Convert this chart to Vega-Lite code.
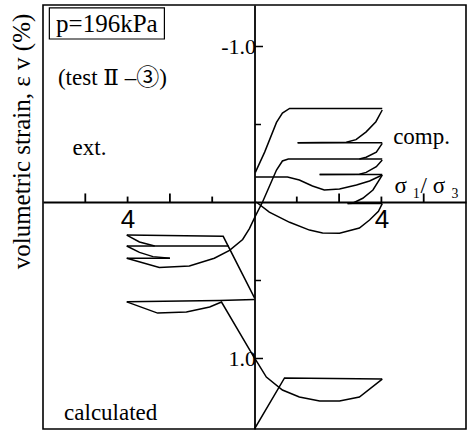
{
  "$schema": "https://vega.github.io/schema/vega-lite/v6.json",
  "width": 423,
  "height": 424,
  "autosize": "none",
  "padding": {"left": 43, "top": 5, "right": 3, "bottom": 3},
  "background": "white",
  "config": {
    "view": {"stroke": "black", "strokeWidth": 1.6},
    "font": "Liberation Serif"
  },
  "datasets": {
    "curves": [
      {"seg": "a", "i": 0, "x": 0.02, "y": -0.19},
      {"seg": "a", "i": 1, "x": 0.24, "y": -0.32},
      {"seg": "a", "i": 2, "x": 0.52, "y": -0.51},
      {"seg": "a", "i": 3, "x": 0.66, "y": -0.57},
      {"seg": "a", "i": 4, "x": 0.83, "y": -0.6},
      {"seg": "a", "i": 5, "x": 3.02, "y": -0.6},

      {"seg": "b", "i": 0, "x": 3.02, "y": -0.59},
      {"seg": "b", "i": 1, "x": 2.87, "y": -0.515},
      {"seg": "b", "i": 2, "x": 2.64, "y": -0.45},
      {"seg": "b", "i": 3, "x": 2.4, "y": -0.4},
      {"seg": "b", "i": 4, "x": 2.17, "y": -0.383},
      {"seg": "b", "i": 5, "x": 1.02, "y": -0.38},

      {"seg": "c", "i": 0, "x": 1.02, "y": -0.38},
      {"seg": "c", "i": 1, "x": 3.02, "y": -0.38},

      {"seg": "d", "i": 0, "x": 3.02, "y": -0.376},
      {"seg": "d", "i": 1, "x": 2.88, "y": -0.32},
      {"seg": "d", "i": 2, "x": 2.64, "y": -0.287},
      {"seg": "d", "i": 3, "x": 2.48, "y": -0.276},

      {"seg": "e", "i": 0, "x": -3.02, "y": 0.36},
      {"seg": "e", "i": 1, "x": -2.25, "y": 0.42},
      {"seg": "e", "i": 2, "x": -1.54, "y": 0.41},
      {"seg": "e", "i": 3, "x": -0.95, "y": 0.36},
      {"seg": "e", "i": 4, "x": -0.59, "y": 0.31},
      {"seg": "e", "i": 5, "x": -0.28, "y": 0.24},
      {"seg": "e", "i": 6, "x": -0.12, "y": 0.17},
      {"seg": "e", "i": 7, "x": 0.02, "y": 0.09},
      {"seg": "e", "i": 8, "x": 0.19, "y": 0.0},
      {"seg": "e", "i": 9, "x": 0.35, "y": -0.1},
      {"seg": "e", "i": 10, "x": 0.52, "y": -0.205},
      {"seg": "e", "i": 11, "x": 0.66, "y": -0.263},
      {"seg": "e", "i": 12, "x": 0.8, "y": -0.276},
      {"seg": "e", "i": 13, "x": 3.02, "y": -0.276},

      {"seg": "f", "i": 0, "x": 3.02, "y": -0.27},
      {"seg": "f", "i": 1, "x": 2.88, "y": -0.226},
      {"seg": "f", "i": 2, "x": 2.64, "y": -0.19},
      {"seg": "f", "i": 3, "x": 2.48, "y": -0.178},
      {"seg": "f", "i": 4, "x": 1.54, "y": -0.176},

      {"seg": "g", "i": 0, "x": 1.54, "y": -0.176},
      {"seg": "g", "i": 1, "x": 3.02, "y": -0.176},

      {"seg": "h", "i": 0, "x": 0.02, "y": -0.16},
      {"seg": "h", "i": 1, "x": 0.78, "y": -0.16},
      {"seg": "h", "i": 2, "x": 1.06, "y": -0.141},
      {"seg": "h", "i": 3, "x": 1.37, "y": -0.103},
      {"seg": "h", "i": 4, "x": 1.65, "y": -0.077},
      {"seg": "h", "i": 5, "x": 2.01, "y": -0.083},
      {"seg": "h", "i": 6, "x": 2.41, "y": -0.109},
      {"seg": "h", "i": 7, "x": 2.72, "y": -0.135},
      {"seg": "h", "i": 8, "x": 3.02, "y": -0.173},

      {"seg": "i", "i": 0, "x": 3.02, "y": -0.173},
      {"seg": "i", "i": 1, "x": 2.8, "y": -0.077},
      {"seg": "i", "i": 2, "x": 2.56, "y": -0.024},
      {"seg": "i", "i": 3, "x": 2.32, "y": 0.008},
      {"seg": "i", "i": 4, "x": 2.2, "y": 0.01},

      {"seg": "j", "i": 0, "x": 2.2, "y": 0.01},
      {"seg": "j", "i": 1, "x": 3.02, "y": 0.01},

      {"seg": "k", "i": 0, "x": 0.04, "y": 0.0},
      {"seg": "k", "i": 1, "x": 0.35, "y": 0.065},
      {"seg": "k", "i": 2, "x": 0.83, "y": 0.13},
      {"seg": "k", "i": 3, "x": 1.3, "y": 0.18},
      {"seg": "k", "i": 4, "x": 1.61, "y": 0.198},
      {"seg": "k", "i": 5, "x": 2.01, "y": 0.2},
      {"seg": "k", "i": 6, "x": 2.48, "y": 0.167},
      {"seg": "k", "i": 7, "x": 2.72, "y": 0.115},
      {"seg": "k", "i": 8, "x": 2.93, "y": 0.06},
      {"seg": "k", "i": 9, "x": 3.02, "y": 0.01},

      {"seg": "l", "i": 0, "x": 0.0, "y": 0.615},
      {"seg": "l", "i": 1, "x": -0.74, "y": 0.22},
      {"seg": "l", "i": 2, "x": -3.02, "y": 0.212},

      {"seg": "m", "i": 0, "x": -3.02, "y": 0.212},
      {"seg": "m", "i": 1, "x": -2.72, "y": 0.256},
      {"seg": "m", "i": 2, "x": -2.36, "y": 0.282},
      {"seg": "m", "i": 3, "x": -0.61, "y": 0.282},

      {"seg": "n", "i": 0, "x": -3.02, "y": 0.282},
      {"seg": "n", "i": 1, "x": -2.36, "y": 0.282},

      {"seg": "o", "i": 0, "x": -3.02, "y": 0.282},
      {"seg": "o", "i": 1, "x": -2.72, "y": 0.323},
      {"seg": "o", "i": 2, "x": -2.4, "y": 0.35},
      {"seg": "o", "i": 3, "x": -2.0, "y": 0.36},

      {"seg": "p", "i": 0, "x": -2.0, "y": 0.36},
      {"seg": "p", "i": 1, "x": -3.02, "y": 0.36},

      {"seg": "q", "i": 0, "x": 0.0, "y": 0.625},
      {"seg": "q", "i": 1, "x": -0.83, "y": 0.632},
      {"seg": "q", "i": 2, "x": -3.02, "y": 0.64},

      {"seg": "r", "i": 0, "x": -3.02, "y": 0.64},
      {"seg": "r", "i": 1, "x": -2.29, "y": 0.712},
      {"seg": "r", "i": 2, "x": -1.61, "y": 0.705},
      {"seg": "r", "i": 3, "x": -1.06, "y": 0.673},
      {"seg": "r", "i": 4, "x": -0.78, "y": 0.641},
      {"seg": "r", "i": 5, "x": 0.0, "y": 1.0},
      {"seg": "r", "i": 6, "x": 0.07, "y": 1.03},
      {"seg": "r", "i": 7, "x": 0.28, "y": 1.122},
      {"seg": "r", "i": 8, "x": 0.66, "y": 1.205},
      {"seg": "r", "i": 9, "x": 1.06, "y": 1.25},
      {"seg": "r", "i": 10, "x": 1.54, "y": 1.276},
      {"seg": "r", "i": 11, "x": 2.01, "y": 1.276},
      {"seg": "r", "i": 12, "x": 2.48, "y": 1.25},
      {"seg": "r", "i": 13, "x": 3.02, "y": 1.135},

      {"seg": "s", "i": 0, "x": 3.02, "y": 1.135},
      {"seg": "s", "i": 1, "x": 0.71, "y": 1.128},
      {"seg": "s", "i": 2, "x": 0.0, "y": 1.455}
    ],
    "xticks": [
      {"x": -4}, {"x": -3}, {"x": -2}, {"x": -1},
      {"x": 1}, {"x": 2}, {"x": 3}, {"x": 4}
    ],
    "notes": [
      {"label": "(test Ⅱ –③)", "x": -3.36, "y": -0.795},
      {"label": "ext.", "x": -3.9, "y": -0.346},
      {"label": "comp.", "x": 3.95, "y": -0.417},
      {"label": "calculated", "x": -3.4, "y": 1.353}
    ],
    "axisname": [
      {"label": "σ ₁/ σ ₃", "x": 4.07, "y": -0.1}
    ],
    "box": [
      {"label": "p=196kPa", "x": -4.85, "x2": -2.13, "y": -1.244, "y2": -1.045, "cx": -3.49, "cy": -1.144}
    ]
  },
  "layer": [
    {
      "data": {"name": "curves"},
      "mark": {"type": "line", "color": "black", "strokeWidth": 1.5, "clip": true},
      "encoding": {
        "x": {
          "field": "x",
          "type": "quantitative",
          "scale": {"domain": [-5, 5], "nice": false, "zero": false},
          "axis": {
            "orient": "bottom",
            "offset": -227,
            "values": [-4, -3, -2, -1, 1, 2, 3, 4],
            "title": null,
            "grid": false,
            "domainColor": "black",
            "domainWidth": 1.8,
            "ticks": false,
            "labelExpr": "abs(datum.value) == 3 ? '4' : ''",
            "labelFont": "Liberation Sans Narrow, Liberation Sans",
            "labelFontSize": 26,
            "labelColor": "black",
            "labelBaseline": "top",
            "labelPadding": 4
          }
        },
        "y": {
          "field": "y",
          "type": "quantitative",
          "scale": {"domain": [-1.263, 1.455], "reverse": true, "nice": false, "zero": false},
          "axis": {
            "orient": "left",
            "offset": -211.5,
            "values": [-1, -0.5, 0.5, 1],
            "grid": false,
            "domainColor": "black",
            "domainWidth": 1.8,
            "tickColor": "black",
            "tickWidth": 1.5,
            "tickSize": {"condition": {"test": "abs(datum.value) == 1", "value": -8}, "value": -6},
            "labelExpr": "datum.value == -1 ? '-1.0' : datum.value == 1 ? '1.0' : ''",
            "labelFont": "Liberation Serif",
            "labelFontSize": 22,
            "labelColor": "black",
            "labelPadding": 7,
            "title": "volumetric strain, ε v (%)",
            "titleFont": "Liberation Serif",
            "titleFontSize": 25,
            "titleFontWeight": "normal",
            "titleColor": "black",
            "titleAngle": 270,
            "titleAlign": "center",
            "titleBaseline": "middle",
            "titleX": -233,
            "titleY": 136
          }
        },
        "detail": {"field": "seg"},
        "order": {"field": "i"}
      }
    },
    {
      "data": {"name": "xticks"},
      "transform": [{"filter": "datum.x % 2 == 0"}],
      "mark": {"type": "rule", "color": "black", "strokeWidth": 1.8},
      "encoding": {
        "x": {"field": "x", "type": "quantitative"},
        "y": {"datum": 0, "type": "quantitative"},
        "y2": {"datum": -0.055}
      }
    },
    {
      "data": {"name": "xticks"},
      "transform": [{"filter": "datum.x % 2 != 0"}],
      "mark": {"type": "rule", "color": "black", "strokeWidth": 1.8},
      "encoding": {
        "x": {"field": "x", "type": "quantitative"},
        "y": {"datum": 0, "type": "quantitative"},
        "y2": {"datum": -0.035}
      }
    },
    {
      "data": {"name": "box"},
      "mark": {"type": "rect", "fill": "black", "xOffset": 1.5, "yOffset": 1.5},
      "encoding": {
        "x": {"field": "x", "type": "quantitative"},
        "x2": {"field": "x2"},
        "y": {"field": "y", "type": "quantitative"},
        "y2": {"field": "y2"}
      }
    },
    {
      "data": {"name": "box"},
      "mark": {"type": "rect", "fill": "white", "stroke": "black", "strokeWidth": 1.2},
      "encoding": {
        "x": {"field": "x", "type": "quantitative"},
        "x2": {"field": "x2"},
        "y": {"field": "y", "type": "quantitative"},
        "y2": {"field": "y2"}
      }
    },
    {
      "data": {"name": "box"},
      "mark": {"type": "text", "font": "Liberation Serif", "fontSize": 25, "color": "black", "align": "center", "baseline": "middle"},
      "encoding": {
        "x": {"field": "cx", "type": "quantitative"},
        "y": {"field": "cy", "type": "quantitative"},
        "text": {"field": "label"}
      }
    },
    {
      "data": {"name": "notes"},
      "mark": {"type": "text", "font": "Liberation Serif, DejaVu Serif, Noto Sans CJK JP", "fontSize": 23, "color": "black", "align": "center", "baseline": "middle"},
      "encoding": {
        "x": {"field": "x", "type": "quantitative"},
        "y": {"field": "y", "type": "quantitative"},
        "text": {"field": "label"}
      }
    },
    {
      "data": {"name": "axisname"},
      "mark": {"type": "text", "font": "Liberation Serif, DejaVu Serif", "fontSize": 23, "color": "black", "align": "center", "baseline": "middle"},
      "encoding": {
        "x": {"field": "x", "type": "quantitative"},
        "y": {"field": "y", "type": "quantitative"},
        "text": {"field": "label"}
      }
    }
  ]
}
